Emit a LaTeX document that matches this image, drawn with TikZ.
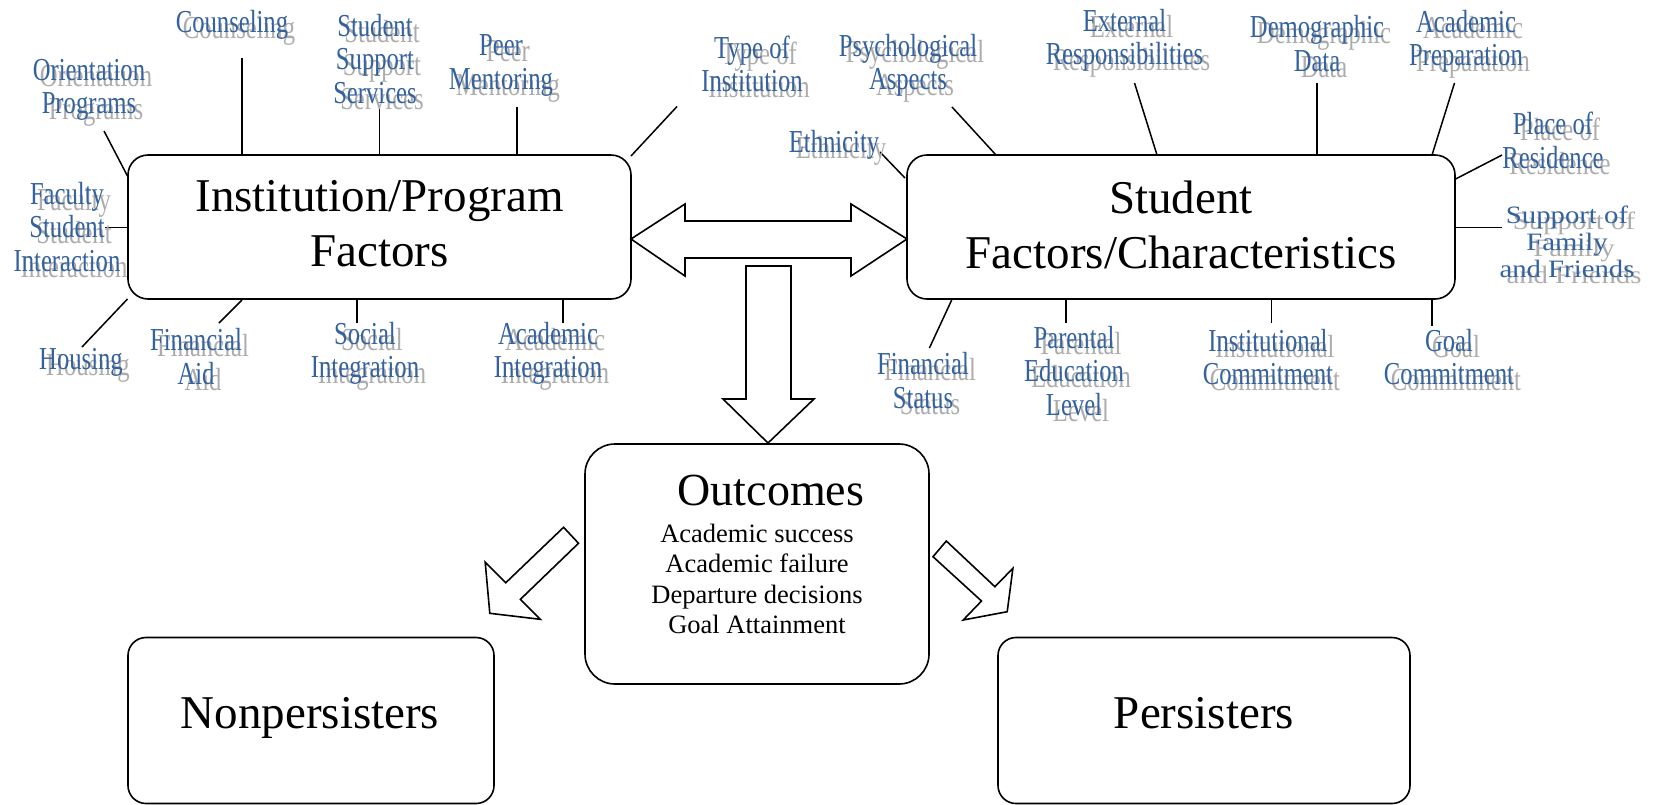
\documentclass[tikz,border=0pt]{standalone}
\usepackage{fontspec}
\setmainfont{Liberation Serif}
\newfontfamily\narrowserif[FakeStretch=0.77]{Liberation Serif}
\newfontfamily\wideserif[FakeStretch=1.15]{Liberation Serif}
\usetikzlibrary{calc}
\definecolor{lblblue}{RGB}{52,98,158}
\definecolor{lblgray}{RGB}{172,172,172}

% label with a soft grey drop shadow behind the blue text
\newcommand\factorlabel[4][lbl]{%
  \node[#1, text=lblgray] at ($(#3)+(7,6)$) {#4};
  \node[#1] (#2) at (#3) {#4};}
% short line joining a label to its box
\newcommand\spoke[3]{%
  \coordinate (#1-a) at (#2);
  \coordinate (#1-b) at (#3);
  \draw[spokeline] (#1-a) -- (#1-b);}

\begin{document}
\begin{tikzpicture}[x=1pt,y=-1pt,
  factorbox/.style={draw=black, line width=1.6pt, rounded corners=20pt, fill=white, inner sep=0pt},
  bigtext/.style={font=\fontsize{47}{55}\selectfont, align=center, inner sep=0pt},
  lbl/.style={font=\narrowserif\fontsize{32}{33.5}\selectfont, align=center, inner sep=0pt, text=lblblue},
  lblwide/.style={font=\wideserif\fontsize{25}{27}\selectfont, align=center, inner sep=0pt, text=lblblue},
  spokeline/.style={line width=1.5pt},
  fatarrow/.style={draw=black, line width=1.6pt, fill=white, line join=miter},
]
\useasboundingbox (0,0) rectangle (1654,804);

% main boxes
\node[factorbox, minimum width=503pt, minimum height=144pt] (inst) at (379.5,227) {};
\node[bigtext, anchor=north] (insttxt) at (379.5,180.5) {Institution/Program\\Factors};

\node[factorbox, minimum width=548pt, minimum height=144pt] (stud) at (1181,227) {};
\node[bigtext, anchor=north] (studtxt) at (1181,180.5) {Student\\Factors/Characteristics};

\node[factorbox, rounded corners=30pt, minimum width=344pt, minimum height=240pt] (outc) at (757,564) {};
\node[font=\fontsize{46}{50}\selectfont, anchor=base, inner sep=0pt] (outtitle) at (771,505) {Outcomes};
\node[font=\fontsize{26.5}{30.5}\selectfont, align=center, anchor=north, inner sep=0pt] (outlist) at (757,523.5)
  {Academic success\\Academic failure\\Departure decisions\\Goal Attainment};

\node[factorbox, rounded corners=18pt, minimum width=366pt, minimum height=166pt] (nonp) at (311,720.5) {};
\node[font=\fontsize{47}{50}\selectfont, anchor=base, inner sep=0pt] (nonptxt) at (310,728) {Nonpersisters};

\node[factorbox, rounded corners=18pt, minimum width=412pt, minimum height=166pt] (pers) at (1204,720.5) {};
\node[font=\fontsize{47}{50}\selectfont, anchor=base, inner sep=0pt] (perstxt) at (1204,728) {Persisters};

% block arrows
\draw[fatarrow] (631,239) -- (685,204) -- (685,221) -- (851,221) -- (851,204) -- (907,239)
  -- (851,276) -- (851,258) -- (685,258) -- (685,276) -- cycle;
\draw[fatarrow] (746,266) -- (791,266) -- (791,399) -- (814,399) -- (768,443) -- (723,399) -- (746,399) -- cycle;
\draw[fatarrow] (563.6,527.3) -- (505.8,582.7) -- (485.2,562.3) -- (489.8,613.3) -- (540.3,619.3)
  -- (520.4,599.3) -- (578.5,543.3) -- cycle;
\draw[fatarrow] (946.3,541) -- (994.9,586.7) -- (1012.9,568.3) -- (1007.2,611.7) -- (963.2,620)
  -- (981.5,601) -- (933,556.7) -- cycle;

% spokes of the institution box
\spoke{orient}{104,131}{128,177}
\spoke{couns}{242,58}{242,155}
\spoke{sss}{379.6,107}{379.6,155}
\spoke{peer}{517,107}{517,155}
\spoke{typeinst}{677,106.5}{631,156}
\spoke{faculty}{105,227.7}{128,227.7}
\spoke{housing}{82,347}{127.5,299}
\spoke{finaid}{219,323}{242,300}
\spoke{social}{357,300}{357,323}
\spoke{acadint}{563,300}{563,323}

% spokes of the student box
\spoke{psych}{952,107}{996,155}
\spoke{ethnic}{880,152}{905,178}
\spoke{external}{1134.5,83}{1157,155}
\spoke{demog}{1317,83}{1317,155}
\spoke{acadprep}{1454.5,83}{1432,155}
\spoke{place}{1502,155}{1455.6,179}
\spoke{support}{1455,227.7}{1502,227.7}
\spoke{finstat}{951.7,300}{929.4,348}
\spoke{parental}{1066,300}{1066,323}
\spoke{instcom}{1271.6,300}{1271.6,323}
\spoke{goalcom}{1432,300}{1432,326}

% factor labels
\factorlabel{orientL}{89,90}{Orientation\\Programs}
\factorlabel{counsL}{232,25}{Counseling}
\factorlabel{sssL}{375,59}{Student\\Support\\Services}
\factorlabel{peerL}{501,65.5}{Peer\\Mentoring}
\factorlabel{typeinstL}{752,64}{Type of\\Institution}
\factorlabel{facultyL}{67,227}{Faculty\\Student\\Interaction}
\factorlabel{housingL}{81,362}{Housing}
\factorlabel{finaidL}{196,356.5}{Financial\\Aid}
\factorlabel{socialL}{365,353.5}{Social\\Integration}
\factorlabel{acadintL}{548,353.5}{Academic\\Integration}
\factorlabel{psychL}{908,65.5}{Psychological\\Aspects}
\factorlabel{ethnicL}{834,144.5}{Ethnicity}
\factorlabel{externalL}{1124.5,40.5}{External\\Responsibilities}
\factorlabel{demogL}{1317,43.5}{Demographic\\Data}
\factorlabel{acadprepL}{1466,41.5}{Academic\\Preparation}
\factorlabel{placeL}{1553,140.5}{Place of\\Residence}
\factorlabel[lblwide]{supportL}{1567,242}{Support of\\Family\\and Friends}
\factorlabel{finstatL}{923,380.5}{Financial\\Status}
\factorlabel{parentalL}{1074,371}{Parental\\Education\\Level}
\factorlabel{instcomL}{1268,357}{Institutional\\Commitment}
\factorlabel{goalcomL}{1449,357}{Goal\\Commitment}
\end{tikzpicture}
\end{document}
